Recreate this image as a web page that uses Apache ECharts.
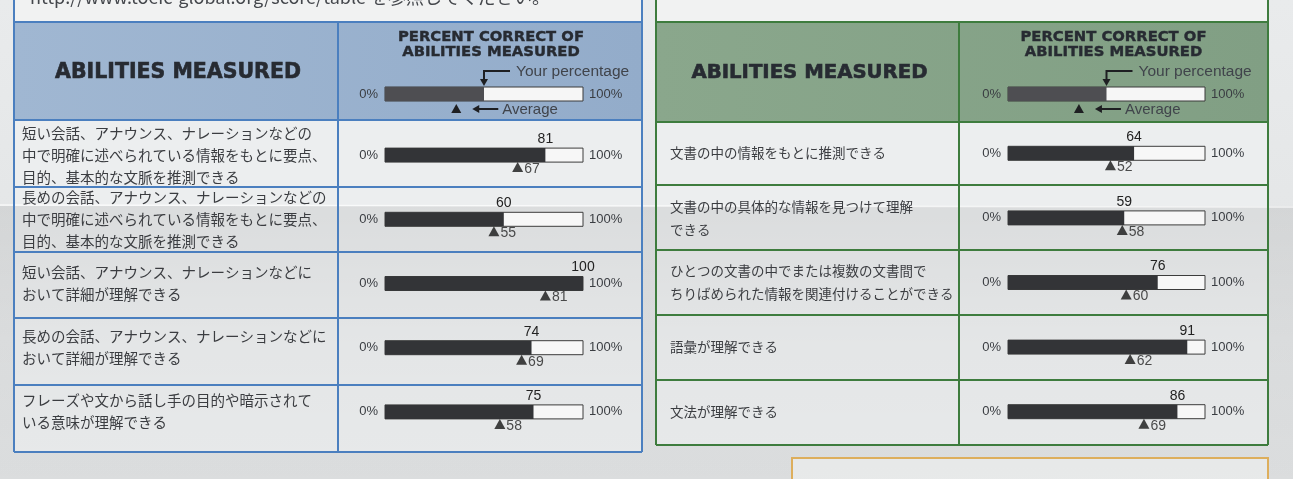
<!DOCTYPE html>
<html><head><meta charset="utf-8">
<script src="https://cdn.jsdelivr.net/npm/echarts@6.0.0/dist/echarts.min.js"></script>
<style>html,body{margin:0;padding:0;background:#e3e5e6;}#c{width:1293px;height:479px;}</style>
</head><body><div id="c"></div>
<script>
// ---------- DATA ----------
const listeningAbilities = [
  '短い会話、アナウンス、ナレーションなどの\n中で明確に述べられている情報をもとに要点、\n目的、基本的な文脈を推測できる',
  '長めの会話、アナウンス、ナレーションなどの\n中で明確に述べられている情報をもとに要点、\n目的、基本的な文脈を推測できる',
  '短い会話、アナウンス、ナレーションなどに\nおいて詳細が理解できる',
  '長めの会話、アナウンス、ナレーションなどに\nおいて詳細が理解できる',
  'フレーズや文から話し手の目的や暗示されて\nいる意味が理解できる'
];
const listeningYour = [81, 60, 100, 74, 75];
const listeningAvg = [67, 55, 81, 69, 58];

const readingAbilities = [
  '文書の中の情報をもとに推測できる',
  '文書の中の具体的な情報を見つけて理解\nできる',
  'ひとつの文書の中でまたは複数の文書間で\nちりばめられた情報を関連付けることができる',
  '語彙が理解できる',
  '文法が理解できる'
];
const readingYour = [64, 59, 76, 91, 86];
const readingAvg = [52, 58, 60, 62, 69];

const scaleLabels = ['0%', '100%'];
const headerTitle = 'ABILITIES MEASURED';
const headerSub = ['PERCENT CORRECT OF', 'ABILITIES MEASURED'];
const legendTexts = ['Your percentage', 'Average'];
const legendSampleShare = 0.5;
const legendSampleAvg = 0.36;
const topNote = 'http://www.toeic-global.org/score/table を参照してください。';

// ---------- LAYOUT ----------
const LAT = '"Liberation Sans", Arial, sans-serif';
const HEAD = '"DejaVu Sans", "Liberation Sans", sans-serif';
const CJK = '"Noto Sans CJK JP", sans-serif';
const panels = [
  { cats: listeningAbilities, your: listeningYour, avg: listeningAvg,
    x0: 14, x1: 642, colX: 338, headTop: 22, headBot: 120, rowLines: [187, 252, 318, 385], bottom: 452,
    trackL: 385, trackR: 583, gridTop: 123, gridBot: 444, textX: 22, lh: 22, textSize: 14.5, titleSize: 20.5, subSize: 14.8,
    border: '#4b7fbf', headBg: '#a0b7d2', headBg2: '#93acca' },
  { cats: readingAbilities, your: readingYour, avg: readingAvg,
    x0: 656, x1: 1268, colX: 959, headTop: 22, headBot: 122, rowLines: [185, 250, 315, 380], bottom: 445,
    trackL: 1008, trackR: 1205, gridTop: 121, gridBot: 444, textX: 670, lh: 23, textSize: 13.5, titleSize: 19.7, subSize: 14.8,
    border: '#3e7c3e', headBg: '#8aa78c', headBg2: '#819f84' }
];

const grid = [], xAxis = [], yAxis = [], series = [], graphic = [];

graphic.push({ type: 'rect', shape: { x: 0, y: 0, width: 1293, height: 479 }, style: { fill: new echarts.graphic.LinearGradient(0, 0, 0, 1, [{ offset: 0, color: '#e9ebec' }, { offset: 1, color: '#dfe1e2' }]) }, z: -20, silent: true });
graphic.push({ type: 'rect', shape: { x: 792, y: 458, width: 476, height: 40 }, style: { fill: '#eceeee', stroke: '#e2b25e', lineWidth: 2 }, z: -5 });
// paper crease shading (photo)
graphic.push({ type: 'rect', shape: { x: 0, y: 206, width: 1293, height: 273 }, style: { fill: new echarts.graphic.LinearGradient(0, 0, 0, 1, [{ offset: 0, color: 'rgba(0,0,0,0.075)' }, { offset: 0.5, color: 'rgba(0,0,0,0.035)' }, { offset: 1, color: 'rgba(0,0,0,0.02)' }]) }, z: -4, silent: true });
graphic.push({ type: 'line', shape: { x1: 0, y1: 205, x2: 1293, y2: 207 }, style: { stroke: 'rgba(255,255,255,0.7)', lineWidth: 1.5 }, z: -3, silent: true });

panels.forEach((P, i) => {
  const w = P.trackR - P.trackL;
  graphic.push({ type: 'rect', shape: { x: P.x0, y: -12, width: P.x1 - P.x0, height: P.headTop + 12 }, style: { fill: '#f1f2f2', stroke: P.border, lineWidth: 2 }, z: -5 });
  graphic.push({ type: 'rect', shape: { x: P.x0, y: P.headBot, width: P.x1 - P.x0, height: P.bottom - P.headBot }, style: { fill: '#eceeef' }, z: -6 });
  graphic.push({ type: 'rect', shape: { x: P.x0, y: P.headTop, width: P.x1 - P.x0, height: P.headBot - P.headTop },
    style: { fill: new echarts.graphic.LinearGradient(0, 0, 1, 0, [{ offset: 0, color: P.headBg }, { offset: 1, color: P.headBg2 }]) }, z: -2 });
  const lines = [[P.x0, P.headTop, P.x1, P.headTop], [P.x0, P.headBot, P.x1, P.headBot], [P.x0, P.bottom, P.x1, P.bottom],
    [P.x0, P.headTop, P.x0, P.bottom], [P.x1, P.headTop, P.x1, P.bottom], [P.colX, P.headTop, P.colX, P.bottom]];
  P.rowLines.forEach(y => lines.push([P.x0, y, P.x1, y]));
  lines.forEach(l => graphic.push({ type: 'line', shape: { x1: l[0], y1: l[1], x2: l[2], y2: l[3] }, style: { stroke: P.border, lineWidth: 2 }, z: 50 }));

  graphic.push({ type: 'text', x: (P.x0 + P.colX) / 2 + 2, y: 73, style: { text: headerTitle, fill: '#272b32', stroke: '#272b32', lineWidth: 0.6, font: `bold ${P.titleSize}px ${HEAD}`, align: 'center', verticalAlign: 'middle' }, z: 60 });
  const cx = (P.trackL + P.trackR) / 2 + 7;
  graphic.push({ type: 'text', x: cx, y: 37, style: { text: headerSub[0], fill: '#272b32', stroke: '#272b32', lineWidth: 0.4, font: `bold ${P.subSize}px ${HEAD}`, align: 'center', verticalAlign: 'middle' }, z: 60 });
  graphic.push({ type: 'text', x: cx, y: 52, style: { text: headerSub[1], fill: '#272b32', stroke: '#272b32', lineWidth: 0.4, font: `bold ${P.subSize}px ${HEAD}`, align: 'center', verticalAlign: 'middle' }, z: 60 });

  // legend sample
  const mid = P.trackL + w * legendSampleShare;
  graphic.push({ type: 'rect', shape: { x: P.trackL, y: 87, width: w, height: 14 }, style: { fill: '#f6f6f6', stroke: '#3a3a3a', lineWidth: 1 }, z: 60 });
  graphic.push({ type: 'rect', shape: { x: P.trackL, y: 87, width: mid - P.trackL, height: 14 }, style: { fill: '#4e4e52' }, z: 61 });
  graphic.push({ type: 'text', x: P.trackL - 7, y: 94, style: { text: scaleLabels[0], fill: '#3a3d42', font: `13px ${LAT}`, align: 'right', verticalAlign: 'middle' }, z: 60 });
  graphic.push({ type: 'text', x: P.trackR + 6, y: 94, style: { text: scaleLabels[1], fill: '#3a3d42', font: `13px ${LAT}`, align: 'left', verticalAlign: 'middle' }, z: 60 });
  graphic.push({ type: 'polyline', shape: { points: [[mid + 26, 71], [mid, 71], [mid, 81]] }, style: { stroke: '#1e1f22', lineWidth: 2, fill: null }, z: 60 });
  graphic.push({ type: 'polygon', shape: { points: [[mid - 4, 79], [mid + 4, 79], [mid, 86]] }, style: { fill: '#1e1f22' }, z: 60 });
  graphic.push({ type: 'text', x: mid + 32, y: 72, style: { text: legendTexts[0], fill: '#40444b', font: `15.5px ${LAT}`, align: 'left', verticalAlign: 'middle' }, z: 60 });
  const am = P.trackL + w * legendSampleAvg;
  graphic.push({ type: 'polygon', shape: { points: [[am - 5, 113], [am + 5, 113], [am, 104]] }, style: { fill: '#1e1f22' }, z: 60 });
  graphic.push({ type: 'line', shape: { x1: am + 22, y1: 109, x2: am + 42, y2: 109 }, style: { stroke: '#1e1f22', lineWidth: 2 }, z: 60 });
  graphic.push({ type: 'polygon', shape: { points: [[am + 16, 109], [am + 23, 105], [am + 23, 113]] }, style: { fill: '#1e1f22' }, z: 60 });
  graphic.push({ type: 'text', x: am + 46, y: 110, style: { text: legendTexts[1], fill: '#40444b', font: `15px ${LAT}`, align: 'left', verticalAlign: 'middle' }, z: 60 });

  grid.push({ left: P.trackL, width: w, top: P.gridTop, height: P.gridBot - P.gridTop, containLabel: false });
  xAxis.push({ gridIndex: i, type: 'value', min: 0, max: 100, show: false });
  const base = { gridIndex: i, type: 'category', data: P.cats, inverse: true,
    axisLine: { show: false }, axisTick: { show: false }, splitLine: { show: false } };
  yAxis.push(Object.assign({}, base, { position: 'left',
    axisLabel: { interval: 0, hideOverlap: false, showMinLabel: true, showMaxLabel: true,
      margin: P.trackL - P.textX, align: 'left', color: '#3b3d41', fontSize: P.textSize, lineHeight: P.lh, fontFamily: CJK } }));
  yAxis.push(Object.assign({}, base, { position: 'left',
    axisLabel: { interval: 0, formatter: () => scaleLabels[0], margin: 7, color: '#3a3d42', fontSize: 13, fontFamily: LAT } }));
  yAxis.push(Object.assign({}, base, { position: 'right',
    axisLabel: { interval: 0, formatter: () => scaleLabels[1], margin: 6, color: '#3a3d42', fontSize: 13, fontFamily: LAT } }));

  series.push({ type: 'bar', xAxisIndex: i, yAxisIndex: 3 * i, data: P.your, barWidth: 14,
    itemStyle: { color: '#333437' },
    showBackground: true, backgroundStyle: { color: '#f7f7f7', borderColor: '#3c3c3c', borderWidth: 1 },
    label: { show: true, position: ['100%', -2], align: 'center', verticalAlign: 'bottom', color: '#222', fontSize: 14, fontFamily: LAT },
    z: 3 });
  series.push({ type: 'scatter', xAxisIndex: i, yAxisIndex: 3 * i, data: P.avg.map((v, k) => [v, k]),
    symbol: 'triangle', symbolSize: [11, 10], symbolOffset: [0, 12],
    itemStyle: { color: '#151515' },
    label: { show: true, position: 'right', distance: 1, offset: [0, 2], formatter: p => p.value[0], color: '#222', fontSize: 14, fontFamily: LAT },
    z: 4 });
});

graphic.push({ type: 'text', x: 30, y: -3, style: { text: topNote, fill: '#44474c', font: `18px ${CJK}`, align: 'left', verticalAlign: 'middle' }, z: 60 });

const chart = echarts.init(document.getElementById('c'), null, { renderer: 'canvas' });
chart.setOption({ animation: false, grid, xAxis, yAxis, series, graphic });
</script></body></html>
